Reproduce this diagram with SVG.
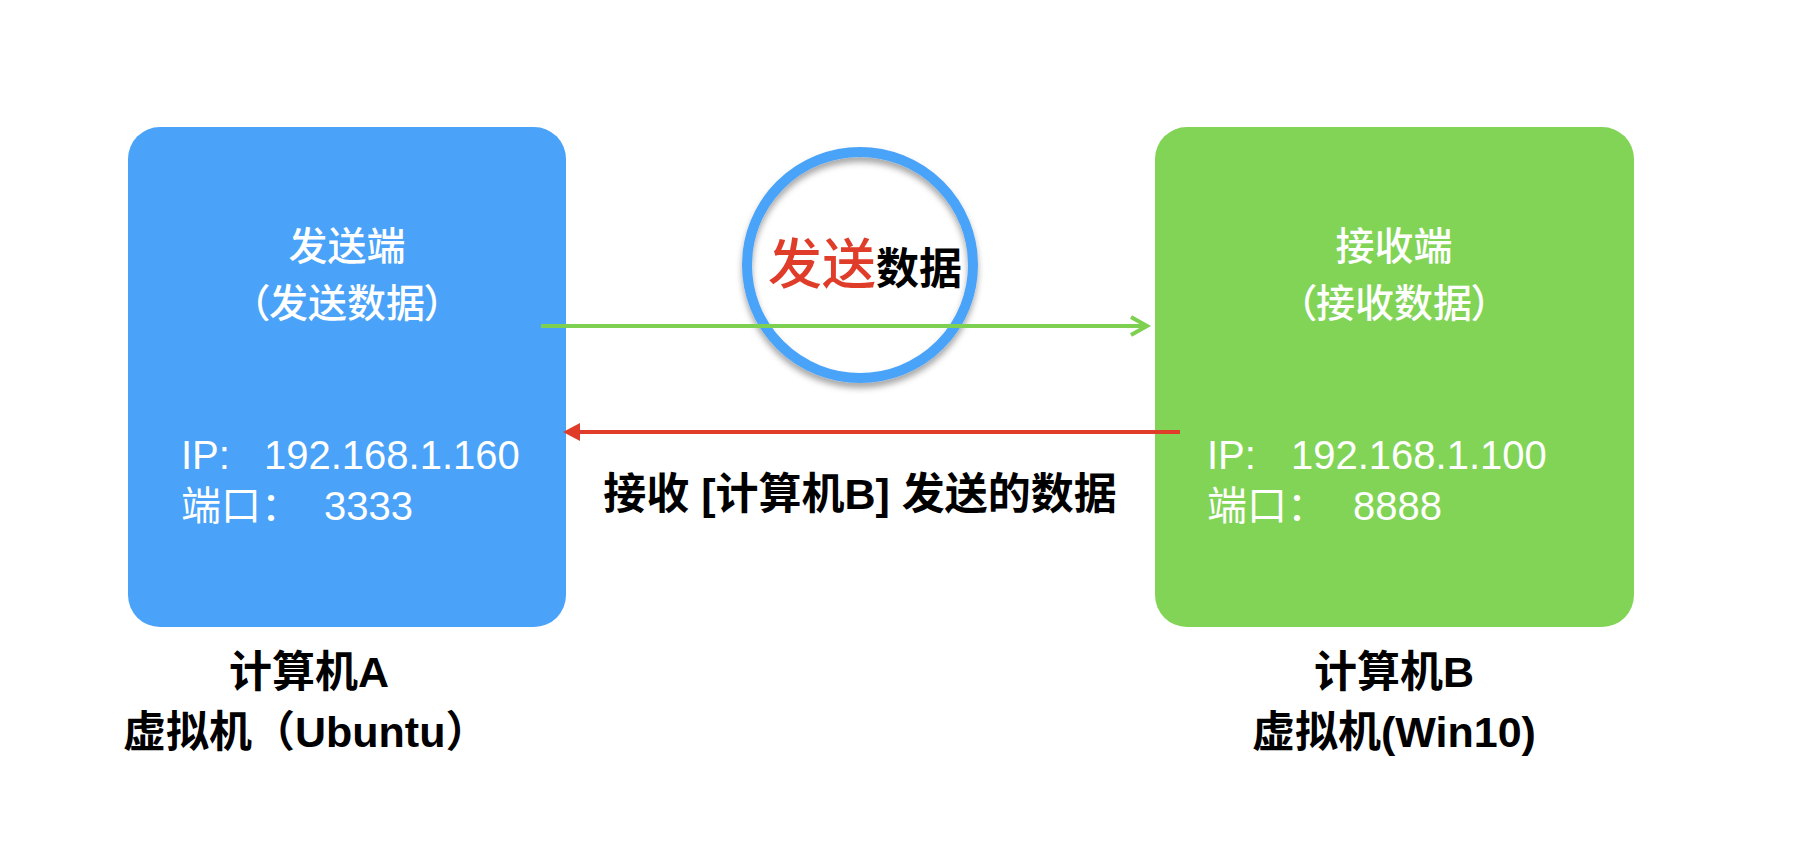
<svg xmlns="http://www.w3.org/2000/svg" width="1798" height="848" viewBox="0 0 1798 848">
  <style>
    .box-text { font-family: "Liberation Sans", "Noto Sans CJK SC", sans-serif; fill: #ffffff; }
    .cjk { font-family: "Noto Sans CJK SC", "Liberation Sans", sans-serif; }
    .title { font-size: 39px; font-weight: 500; text-anchor: middle; font-feature-settings: "palt"; }
    .info { font-size: 40px; }
    .label { font-family: "Liberation Sans", "Noto Sans CJK SC", sans-serif; font-weight: bold; font-size: 43px; fill: #000000; }
    .conn { fill: none; stroke-width: 4; }
  </style>
  <defs>
    <filter id="shadow" x="-20%" y="-20%" width="140%" height="140%">
      <feDropShadow dx="0" dy="5" stdDeviation="3" flood-color="#000000" flood-opacity="0.35"/>
    </filter>
  </defs>
  <rect width="1798" height="848" fill="#ffffff"/>

  <g id="computerA">
    <rect x="128" y="127" width="438" height="500" rx="32" ry="32" fill="#4AA3F8"/>
    <text class="box-text cjk title" x="347" y="260">发送端</text>
    <text class="box-text cjk title" x="347" y="317">（发送数据）</text>
    <text class="box-text info" x="181" y="469">IP:<tspan x="264">192.168.1.160</tspan></text>
    <text class="box-text info" x="181" y="520">端口：<tspan x="324">3333</tspan></text>
  </g>

  <g id="computerB">
    <rect x="1155" y="127" width="479" height="500" rx="32" ry="32" fill="#82D457"/>
    <text class="box-text cjk title" x="1394" y="260">接收端</text>
    <text class="box-text cjk title" x="1394" y="317">（接收数据）</text>
    <text class="box-text info" x="1207" y="469">IP:<tspan x="1291">192.168.1.100</tspan></text>
    <text class="box-text info" x="1207" y="520">端口：<tspan x="1353">8888</tspan></text>
  </g>

  <g id="labelA">
    <text class="label" x="229" y="687">计算机A</text>
    <text class="label" x="123" y="747">虚拟机（Ubuntu）</text>
  </g>

  <g id="labelB">
    <text class="label" x="1314" y="687">计算机B</text>
    <text class="label" x="1252" y="747">虚拟机(Win10)</text>
  </g>

  <g id="sendHighlight">
    <circle cx="860" cy="265" r="113" fill="none" stroke="#4AA3F8" stroke-width="10" filter="url(#shadow)"/>
    <text class="label" x="768" y="284"><tspan fill="#E03C2A" font-size="54" font-weight="500">发送</tspan><tspan font-size="43">数据</tspan></text>
  </g>

  <g id="connectors">
    <line class="conn" x1="541" y1="326" x2="1146" y2="326" stroke="#7ED050" stroke-width="3.5"/>
    <polyline class="conn" points="1131,317 1147,326 1131,335" stroke="#7ED050" stroke-width="3.5"/>
    <line class="conn" x1="1180" y1="432" x2="576" y2="432" stroke="#E03C2A"/>
    <polygon points="563,432 580,423 580,441" fill="#E03C2A"/>
  </g>

  <g id="receiveLabel">
    <text class="label" x="860" y="509" text-anchor="middle" font-size="44">接收 [计算机B] 发送的数据</text>
  </g>
</svg>
